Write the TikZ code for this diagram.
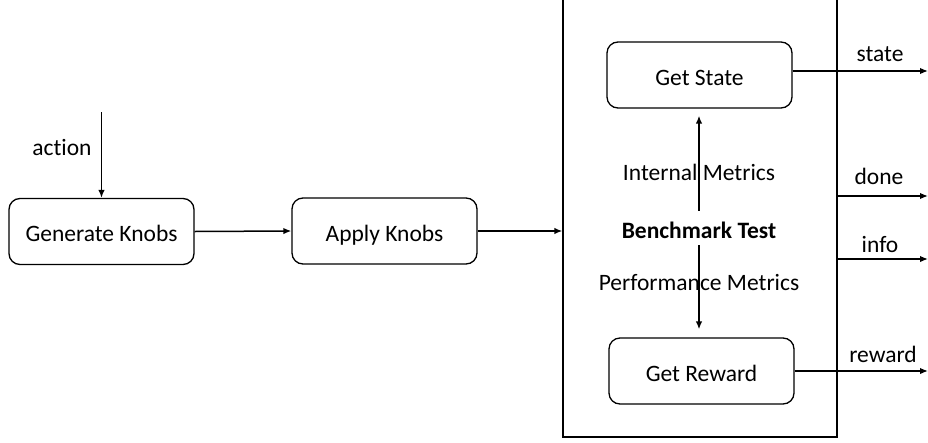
\documentclass[tikz,border=0pt]{standalone}
\usepackage{fontspec}
\setmainfont{Carlito}[Ligatures=NoCommon]
\usetikzlibrary{arrows.meta,calc}
\begin{document}
\begin{tikzpicture}[x=1pt,y=-1pt,
  every node/.style={font=\fontsize{23.5}{28}\selectfont, text=black, text height=21pt, text depth=1pt},
  proc/.style={draw, line width=1.3pt, rounded corners=11pt, minimum height=66pt, inner sep=0pt},
  conn/.style={line width=1.5pt, -{Latex[length=8pt,width=6.5pt]}},
  lbl/.style={inner sep=0pt}]
\useasboundingbox (0,0) rectangle (928,442);
\clip (0,0) rectangle (928,442);
\fill[white] (0,0) rectangle (928,442);
% big box
\node[draw, line width=1.3pt, minimum width=274pt, minimum height=457pt, inner sep=0pt, text height=0pt, text depth=0pt] (bm) at (700,208.5) {};
% process boxes
\node[proc, minimum width=185pt] (gen) at (101.5,231.5) {Generate Knobs};
\node[proc, minimum width=185pt] (app) at (384.5,231) {Apply Knobs};
\node[proc, minimum width=185pt] (gs) at (699.5,75) {Get State};
\node[proc, minimum width=185pt] (gr) at (701.5,371) {Get Reward};
\node[inner sep=0pt, minimum height=34pt, minimum width=10pt] (bt) at (699,228) {\bfseries Benchmark Test};
% labels
\node[lbl] (lact) at (62,145) {action};
\node[lbl] (lint) at (699,170) {Internal Metrics};
\node[lbl] (lperf) at (699,280) {Performance Metrics};
\node[lbl] (lstate) at (880,51) {state};
\node[lbl] (ldone) at (879,174) {done};
\node[lbl] (linfo) at (880,242) {info};
\node[lbl] (lrew) at (883,352) {reward};
% coordinates
\coordinate (actTop) at (101.5,112);
\coordinate (stateEnd) at (928,71);
\coordinate (doneStart) at (837,196);
\coordinate (doneEnd) at (928,196);
\coordinate (infoStart) at (837,259);
\coordinate (infoEnd) at (928,259);
\coordinate (rewEnd) at (928,371);
% connectors
\draw[conn] (actTop) -- (gen.north);
\draw[conn] (gen.east) -- (app.west);
\draw[conn] (app.east) -- (bm.west |- app.east);
\draw[conn, shorten >=7pt] (bt.north) -- (gs.south -| bt.north);
\draw[conn, shorten >=8pt] (bt.south) -- (gr.north -| bt.south);
\draw[conn] (gs.east |- stateEnd) -- (stateEnd);
\draw[conn] (doneStart) -- (doneEnd);
\draw[conn] (infoStart) -- (infoEnd);
\draw[conn] (gr.east |- rewEnd) -- (rewEnd);
\end{tikzpicture}
\end{document}
